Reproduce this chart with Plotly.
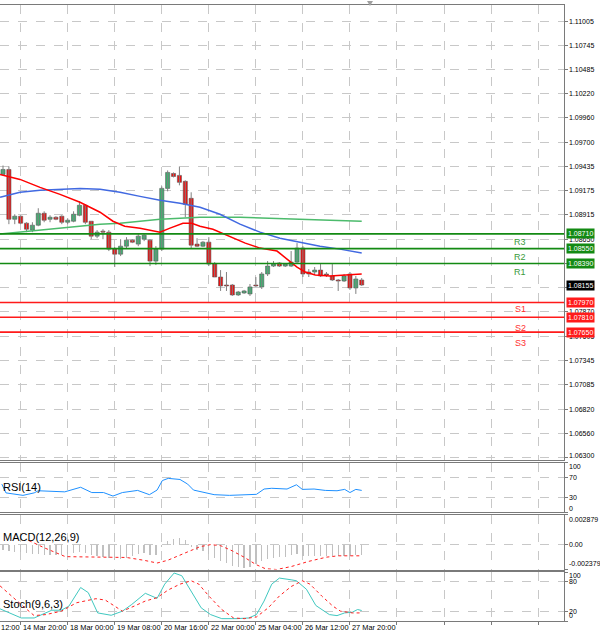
import plotly.graph_objects as go
from plotly.subplots import make_subplots

# ---------------- data ----------------
candle_idx = list(range(62))
opens = [1.09351, 1.09404, 1.08867, 1.08900, 1.08825, 1.08750, 1.08803, 1.08932, 1.08867, 1.08889,
         1.08900, 1.08835, 1.08846, 1.08910, 1.09018, 1.08846, 1.08685, 1.08739, 1.08728, 1.08545,
         1.08491, 1.08577, 1.08642, 1.08599, 1.08652, 1.08642, 1.08416, 1.08545, 1.09200, 1.09361,
         1.09340, 1.09276, 1.09093, 1.08599, 1.08577, 1.08620, 1.08384, 1.08244, 1.08158, 1.08158,
         1.08051, 1.08072, 1.08062, 1.08158, 1.08137, 1.08277, 1.08362, 1.08395, 1.08362, 1.08362,
         1.08405, 1.08556, 1.08298, 1.08298, 1.08319, 1.08277, 1.08255, 1.08212, 1.08201, 1.08277,
         1.08126, 1.08212]
highs = [1.09447, 1.09437, 1.08921, 1.08910, 1.08835, 1.08835, 1.08986, 1.08953, 1.08910, 1.08900,
         1.08910, 1.08878, 1.08953, 1.09061, 1.09029, 1.08846, 1.08750, 1.08760, 1.08750, 1.08567,
         1.08652, 1.08674, 1.08652, 1.08706, 1.08706, 1.08652, 1.08577, 1.09222, 1.09394, 1.09372,
         1.09437, 1.09287, 1.09158, 1.08663, 1.08631, 1.08674, 1.08405, 1.08319, 1.08298, 1.08169,
         1.08094, 1.08105, 1.08169, 1.08244, 1.08298, 1.08416, 1.08416, 1.08405, 1.08395, 1.08524,
         1.08610, 1.08577, 1.08330, 1.08352, 1.08384, 1.08298, 1.08384, 1.08223, 1.08277, 1.08298,
         1.08255, 1.08233]
lows = [1.09340, 1.08814, 1.08814, 1.08814, 1.08728, 1.08728, 1.08792, 1.08835, 1.08835, 1.08857,
        1.08814, 1.08814, 1.08835, 1.08900, 1.08814, 1.08652, 1.08663, 1.08652, 1.08524, 1.08352,
        1.08470, 1.08556, 1.08610, 1.08577, 1.08631, 1.08362, 1.08373, 1.08524, 1.09168, 1.09318,
        1.09233, 1.08889, 1.08556, 1.08567, 1.08567, 1.08362, 1.08244, 1.08094, 1.08094, 1.08040,
        1.08040, 1.08062, 1.08040, 1.08137, 1.08115, 1.08255, 1.08352, 1.08352, 1.08352, 1.08352,
        1.08384, 1.08244, 1.08244, 1.08277, 1.08244, 1.08244, 1.08201, 1.08094, 1.08191, 1.08105,
        1.08062, 1.08148]
closes = [1.09404, 1.08867, 1.08900, 1.08825, 1.08760, 1.08803, 1.08932, 1.08857, 1.08889, 1.08867,
          1.08835, 1.08857, 1.08921, 1.09018, 1.08835, 1.08685, 1.08728, 1.08728, 1.08545, 1.08491,
          1.08577, 1.08642, 1.08620, 1.08685, 1.08695, 1.08416, 1.08545, 1.09200, 1.09372, 1.09329,
          1.09265, 1.09029, 1.08588, 1.08577, 1.08620, 1.08384, 1.08244, 1.08148, 1.08148, 1.08051,
          1.08083, 1.08094, 1.08137, 1.08148, 1.08277, 1.08362, 1.08384, 1.08362, 1.08384, 1.08405,
          1.08556, 1.08277, 1.08277, 1.08319, 1.08255, 1.08266, 1.08212, 1.08201, 1.08255, 1.08126,
          1.08223, 1.08158]

# moving averages (sampled along the drawn lines)
ma_red_x = [-0.5, 2.9, 6.3, 9.7, 13.1, 16.5, 18.7, 20.7, 23.3, 25.5, 26.7, 28.4, 30.6, 32.1,
            33.5, 35.7, 38.6, 41.2, 43.7, 46.6, 48.3, 50.0, 51.4, 53.1, 55.6, 58.2, 61.0]
ma_red_y = [1.09351, 1.09297, 1.09211, 1.09136, 1.09050, 1.08943, 1.08846, 1.08792, 1.08771, 1.08739,
            1.08728, 1.08771, 1.08824, 1.08824, 1.08792, 1.08760, 1.08685, 1.08610, 1.08556, 1.08524,
            1.08438, 1.08352, 1.08298, 1.08266, 1.08255, 1.08266, 1.08277]
ma_blue_x = [-0.5, 2.9, 6.3, 9.7, 13.1, 16.5, 19.9, 23.3, 26.7, 30.1, 33.5, 36.9, 40.3, 43.7,
             47.1, 50.5, 53.9, 57.3, 61.0]
ma_blue_y = [1.09104, 1.09158, 1.09179, 1.09190, 1.09200, 1.09190, 1.09158, 1.09114, 1.09071, 1.09039,
             1.08996, 1.08921, 1.08814, 1.08728, 1.08663, 1.08620, 1.08577, 1.08545, 1.08502]
ma_green_x = [-0.5, 2.9, 6.3, 9.7, 13.1, 16.5, 19.9, 23.3, 26.7, 30.1, 33.5, 40.3, 47.1, 50.5, 55.6, 61.0]
ma_green_y = [1.08707, 1.08728, 1.08750, 1.08771, 1.08792, 1.08814, 1.08824, 1.08846, 1.08867, 1.08878,
              1.08889, 1.08889, 1.08878, 1.08867, 1.08857, 1.08846]

# support / resistance levels and current price
res_names = ["R1", "R2", "R3"]
res_levels = [1.08390, 1.08550, 1.08710]
sup_names = ["S1", "S2", "S3"]
sup_levels = [1.07970, 1.07810, 1.07650]
last_price = 1.08155

# right price axis (1.08390 and 1.08130 sit fully under the coloured boxes)
price_ticks = [1.11005, 1.10745, 1.10485, 1.10220, 1.09960, 1.09700, 1.09435, 1.09175, 1.08915,
               1.08650, 1.08390, 1.08130, 1.07870, 1.07605, 1.07345, 1.07085, 1.06820, 1.06560, 1.06300]
hidden_price_ticks = [1.08390, 1.08130]
price_range = [1.06276, 1.11178]

# time axis
time_tick_idx = [-5, 3, 11, 19, 27, 35, 43, 51, 59]
time_tick_text = ["13 Mar 12:00", "14 Mar 20:00", "18 Mar 00:00", "19 Mar 08:00", "20 Mar 16:00",
                  "22 Mar 00:00", "25 Mar 04:00", "26 Mar 12:00", "27 Mar 20:00"]
grid_idx = [3, 11, 19, 27, 35, 43, 51, 59, 67, 75, 83, 91]
x_range = [-0.51, 95.4]

# RSI(14)
rsi_x = [-0.2, 0.5, 3.4, 5.3, 6.0, 10.5, 13.2, 15.1, 17.1, 18.7, 20.3, 22.9, 24.9, 26.2, 27.1, 28.1,
         30.1, 31.4, 32.4, 34.0, 35.9, 38.5, 41.1, 43.1, 44.4, 45.7, 48.3, 49.9, 50.9, 52.9, 54.8,
         56.8, 58.1, 59.0, 60.0, 61.0]
rsi_y = [56.4, 38.6, 33.6, 38.6, 42.9, 40.7, 50.0, 39.3, 39.3, 32.2, 39.3, 43.6, 35.0, 44.3, 63.6, 67.9,
         65.7, 56.4, 44.3, 40.7, 35.0, 33.6, 35.0, 35.7, 46.4, 47.9, 46.4, 55.0, 45.7, 46.4, 43.6,
         42.9, 45.7, 39.3, 45.7, 43.6]
rsi_ticks = [100, 70, 30, 0]

# MACD(12,26,9)
macd_hist = [-0.00050, -0.00060, -0.00070, -0.00070, -0.00080, -0.00090, -0.00090, -0.00100, -0.00100, -0.00100,
             -0.00100, -0.00090, -0.00080, -0.00070, -0.00080, -0.00100, -0.00110, -0.00120, -0.00130, -0.00150,
             -0.00140, -0.00130, -0.00110, -0.00090, -0.00080, -0.00100, -0.00100, -0.00020, 0.00030, 0.00050,
             0.00060, 0.00040, -0.00020, -0.00050, -0.00060, -0.00090, -0.00130, -0.00160, -0.00180, -0.00200,
             -0.00210, -0.00220, -0.00210, -0.00190, -0.00160, -0.00140, -0.00130, -0.00120, -0.00120, -0.00100,
             -0.00090, -0.00110, -0.00110, -0.00110, -0.00110, -0.00110, -0.00110, -0.00110, -0.00110, -0.00110,
             -0.00100, -0.00100]
macd_sig_x = [4.4, 7.0, 10.6, 15.0, 21.0, 24.0, 26.2, 28.0, 31.0, 33.5, 35.3, 37.0, 39.0, 41.0, 43.0,
              44.6, 46.5, 49.0, 52.0, 55.0, 57.0, 61.0]
macd_sig_y = [0.00039, -0.00030, -0.00115, -0.00120, -0.00123, -0.00150, -0.00176, -0.00150, -0.00080,
              -0.00020, 0.00000, -0.00010, -0.00060, -0.00120, -0.00190, -0.00230, -0.00238, -0.00210,
              -0.00160, -0.00120, -0.00107, -0.00107]
macd_range = [-0.002379, 0.002879]
macd_ticks = [0.002879, 0.0, -0.002379]
macd_tick_text = ["0.002879", "0.00", "-0.002379"]

# Stoch(9,6,3)
stoch_main_x = [-0.5, 1.1, 3.1, 5.3, 6.6, 8.3, 9.9, 11.2, 13.2, 14.5, 16.1, 18.4, 20.3, 21.9, 24.2, 26.2,
                27.5, 29.1, 30.4, 32.0, 33.7, 35.3, 37.2, 39.8, 41.8, 43.1, 44.4, 45.7, 47.0, 49.0, 49.9,
                51.6, 53.2, 55.5, 56.8, 58.1, 59.4, 60.3, 61.0]
stoch_main_y = [24.8, 16.5, 6.2, 6.2, 13.1, 22.0, 22.0, 30.3, 68.3, 57.9, 16.5, 11.7, 20.0, 33.8, 56.5, 46.2,
                75.2, 97.9, 92.4, 61.4, 26.9, 13.1, 4.8, 4.8, 6.2, 13.1, 40.7, 75.2, 87.6, 84.1, 82.1,
                64.8, 31.7, 13.1, 11.0, 16.5, 17.9, 23.4, 21.4]
stoch_sig_x = [-0.5, 1.4, 3.4, 5.3, 7.3, 9.9, 12.5, 15.8, 17.4, 19.0, 20.3, 22.3, 24.2, 26.2, 28.1, 30.1,
               32.0, 33.3, 35.0, 37.2, 39.2, 41.1, 43.1, 45.1, 47.0, 49.0, 50.9, 52.2, 54.2, 56.1, 57.4,
               59.4, 61.0]
stoch_sig_y = [71.7, 51.0, 30.3, 11.0, 13.1, 20.0, 37.2, 45.5, 42.7, 30.3, 20.0, 30.3, 40.7, 47.6, 63.4, 75.2,
               82.1, 75.2, 51.0, 23.4, 6.2, 4.8, 8.2, 26.9, 51.0, 70.3, 82.1, 75.2, 51.0, 30.3, 20.0,
               16.5, 16.5]
stoch_ticks = [100, 80, 20, 0]

# ---------------- styles ----------------
FONT = "Liberation Sans"
GRID = "#c8c8c8"
BORDER = "#7a7a7a"
UP_FILL = "#3cb371"
DOWN_FILL = "#f01010"
WICK = "#808080"
RES_COL = "#138a13"
SUP_COL = "#ff1a1a"

W, H = 600, 635
PLOT_W = 564

fig = make_subplots(rows=4, cols=1, shared_xaxes=True, vertical_spacing=0)

# candle wicks
wx, wy = [], []
for i, h, l in zip(candle_idx, highs, lows):
    wx += [i, i, None]
    wy += [l, h, None]
fig.add_trace(go.Scatter(x=wx, y=wy, mode="lines", line=dict(color=WICK, width=1),
                         hoverinfo="skip", showlegend=False), row=1, col=1)

# candle bodies
body_base = [min(o, c) for o, c in zip(opens, closes)]
body_h = [max(abs(c - o), 0.00003) for o, c in zip(opens, closes)]
body_col = [UP_FILL if c >= o else DOWN_FILL for o, c in zip(opens, closes)]
fig.add_trace(go.Bar(x=candle_idx, y=body_h, base=body_base, width=0.7,
                     marker=dict(color=body_col, line=dict(color="#555555", width=0.6)),
                     hoverinfo="skip", showlegend=False), row=1, col=1)

# moving averages
fig.add_trace(go.Scatter(x=ma_green_x, y=ma_green_y, mode="lines", line=dict(color="#4cbb6c", width=1.5),
                         showlegend=False), row=1, col=1)
fig.add_trace(go.Scatter(x=ma_blue_x, y=ma_blue_y, mode="lines", line=dict(color="#4169e1", width=1.5),
                         showlegend=False), row=1, col=1)
fig.add_trace(go.Scatter(x=ma_red_x, y=ma_red_y, mode="lines", line=dict(color="#ff0000", width=1.5),
                         showlegend=False), row=1, col=1)

# RSI
fig.add_trace(go.Scatter(x=rsi_x, y=rsi_y, mode="lines", line=dict(color="#1e90ff", width=1),
                         showlegend=False), row=2, col=1)

# MACD
fig.add_trace(go.Bar(x=candle_idx, y=macd_hist, width=0.22, marker=dict(color="#c0c0c0", line=dict(width=0)),
                     showlegend=False), row=3, col=1)
fig.add_trace(go.Scatter(x=macd_sig_x, y=macd_sig_y, mode="lines",
                         line=dict(color="#ff2020", width=1, dash="dot"), showlegend=False), row=3, col=1)

# Stochastic
fig.add_trace(go.Scatter(x=stoch_main_x, y=stoch_main_y, mode="lines", line=dict(color="#40c8c0", width=1),
                         showlegend=False), row=4, col=1)
fig.add_trace(go.Scatter(x=stoch_sig_x, y=stoch_sig_y, mode="lines",
                         line=dict(color="#ff2020", width=1, dash="dot"), showlegend=False), row=4, col=1)


def py2paper(py):
    return 1 - py / H


domains = {
    1: [py2paper(459.5), py2paper(5)],
    2: [py2paper(512), py2paper(462.5)],
    3: [py2paper(569.5), py2paper(514.5)],
    4: [py2paper(621), py2paper(572)],
}

for r in range(1, 5):
    xa = "xaxis" if r == 1 else f"xaxis{r}"
    fig.layout[xa].update(range=x_range, tickmode="array", tickvals=grid_idx, showticklabels=False,
                          showgrid=True, gridcolor=GRID, griddash="dash", gridwidth=1, automargin=False,
                          zeroline=False, showline=True, mirror=True, linecolor=BORDER, linewidth=1,
                          ticks="outside" if r == 4 else "", ticklen=3, tickcolor=BORDER)
    ya = "yaxis" if r == 1 else f"yaxis{r}"
    fig.layout[ya].update(domain=domains[r], side="right", showgrid=True, gridcolor=GRID, griddash="dash",
                          zeroline=False, showline=True, linecolor=BORDER, linewidth=1, automargin=False,
                          ticks="outside", ticklen=3, tickcolor=BORDER, showticklabels=False)

fig.layout.yaxis.update(range=price_range, tickmode="array", tickvals=price_ticks)
fig.layout.yaxis2.update(range=[0, 100], tickmode="array", tickvals=rsi_ticks)
fig.layout.yaxis3.update(range=macd_range, tickmode="array", tickvals=macd_ticks)
fig.layout.yaxis4.update(range=[0, 100], tickmode="array", tickvals=stoch_ticks)

# support / resistance lines
for lv in res_levels:
    fig.add_shape(type="line", xref="x domain", yref="y", x0=0, x1=1, y0=lv, y1=lv,
                  line=dict(color=RES_COL, width=1.6))
for lv in sup_levels:
    fig.add_shape(type="line", xref="x domain", yref="y", x0=0, x1=1, y0=lv, y1=lv,
                  line=dict(color=SUP_COL, width=1.6))

annotations = []
lab_font = dict(family=FONT, size=7, color="#000000")


def axis_label(yref, val, txt, shift=0):
    annotations.append(dict(x=1, y=val, xref="paper", yref=yref, text=txt, showarrow=False,
                            xanchor="left", yanchor="middle", xshift=3, yshift=shift, font=lab_font))


for v in price_ticks:
    if v in hidden_price_ticks:
        continue
    axis_label("y", v, f"{v:.5f}", 1.5 if v == price_ticks[-1] else 0)
for v in rsi_ticks:
    axis_label("y2", v, str(v), {100: -3.5, 0: 4}.get(v, 0))
for v, t in zip(macd_ticks, macd_tick_text):
    axis_label("y3", v, t, {0: 0}.get(v, -4.5 if v > 0 else 6))
for v in stoch_ticks:
    axis_label("y4", v, str(v), {100: -3, 0: 6}.get(v, 0))


def idx2paper(i):
    return (i - x_range[0]) / (x_range[1] - x_range[0])


label_x = idx2paper(89.3)
for name, lv, ys in zip(res_names, res_levels, [-8, -8, -8]):
    annotations.append(dict(x=label_x, y=lv, xref="paper", yref="y", text=name, showarrow=False,
                            yshift=ys, font=dict(family=FONT, size=9, color="#3a9a3a")))
for name, lv, ys in zip(sup_names, sup_levels, [-6.5, -10.5, -11]):
    annotations.append(dict(x=label_x, y=lv, xref="paper", yref="y", text=name, showarrow=False,
                            yshift=ys, font=dict(family=FONT, size=9, color="#ff3030")))

# coloured price boxes on the right axis
boxes = [(lv, RES_COL) for lv in res_levels] + [(last_price, "#000000")] + [(lv, SUP_COL) for lv in sup_levels]
for lv, col in boxes:
    annotations.append(dict(x=1, y=lv, xref="paper", yref="y", text=f"{lv:.5f}", showarrow=False,
                            xanchor="left", xshift=2, bgcolor=col, borderpad=1,
                            font=dict(family=FONT, size=7, color="#ffffff")))

# time labels (left aligned at their grid line)
for i, t in zip(time_tick_idx, time_tick_text):
    annotations.append(dict(x=idx2paper(i), y=py2paper(627), xref="paper", yref="paper", text=t,
                            showarrow=False, xanchor="left", yanchor="middle",
                            font=dict(family=FONT, size=7.4, color="#000000")))

# indicator names
for txt, py in [("RSI(14)", 487), ("MACD(12,26,9)", 537), ("Stoch(9,6,3)", 604)]:
    annotations.append(dict(x=0.002, y=py2paper(py), xref="paper", yref="paper", text=txt, showarrow=False,
                            xanchor="left", yanchor="middle", font=dict(family=FONT, size=11, color="#000000")))

fig.update_layout(annotations=annotations)

# shift marker at the top
fig.add_shape(type="path", xref="paper", yref="paper",
              path=f"M {367/PLOT_W},{py2paper(1)} L {373/PLOT_W},{py2paper(1)} L {370/PLOT_W},{py2paper(6)} Z",
              fillcolor="#a0a0a0", line=dict(width=0))

fig.update_layout(width=W, height=H, margin=dict(l=0, r=W - PLOT_W, t=0, b=0, autoexpand=False),
                  paper_bgcolor="#ffffff", plot_bgcolor="#ffffff", showlegend=False,
                  bargap=0, font=dict(family=FONT, size=7, color="#000000"))

fig.write_html("out.html", config={"displayModeBar": False, "staticPlot": True},
               post_script="document.body.style.margin='0px';document.body.style.overflow='hidden';")
